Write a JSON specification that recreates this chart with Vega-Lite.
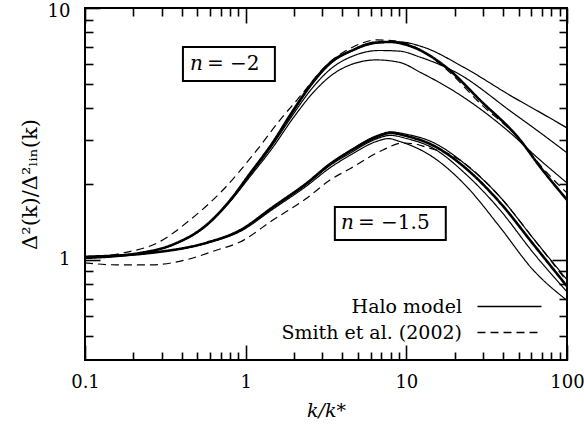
{
  "$schema": "https://vega.github.io/schema/vega-lite/v6.json",
  "width": 482,
  "height": 352,
  "autosize": {"type": "none"},
  "padding": {"left": 85, "top": 8, "right": 17, "bottom": 78},
  "background": "white",
  "datasets": {
    "curves": [
      {"g":"n2","c":"n2_thick","m":"Halo model","w":"thick","k":0.1,"r":1.018},
      {"g":"n2","c":"n2_thick","m":"Halo model","w":"thick","k":0.22,"r":1.064},
      {"g":"n2","c":"n2_thick","m":"Halo model","w":"thick","k":0.353,"r":1.15},
      {"g":"n2","c":"n2_thick","m":"Halo model","w":"thick","k":0.574,"r":1.38},
      {"g":"n2","c":"n2_thick","m":"Halo model","w":"thick","k":0.798,"r":1.72},
      {"g":"n2","c":"n2_thick","m":"Halo model","w":"thick","k":1.064,"r":2.2},
      {"g":"n2","c":"n2_thick","m":"Halo model","w":"thick","k":1.479,"r":2.93},
      {"g":"n2","c":"n2_thick","m":"Halo model","w":"thick","k":1.94,"r":3.85},
      {"g":"n2","c":"n2_thick","m":"Halo model","w":"thick","k":2.66,"r":5.15},
      {"g":"n2","c":"n2_thick","m":"Halo model","w":"thick","k":3.35,"r":6.05},
      {"g":"n2","c":"n2_thick","m":"Halo model","w":"thick","k":4.66,"r":6.81},
      {"g":"n2","c":"n2_thick","m":"Halo model","w":"thick","k":6.19,"r":7.27},
      {"g":"n2","c":"n2_thick","m":"Halo model","w":"thick","k":7.9,"r":7.33},
      {"g":"n2","c":"n2_thick","m":"Halo model","w":"thick","k":10.98,"r":7.0},
      {"g":"n2","c":"n2_thick","m":"Halo model","w":"thick","k":17.9,"r":5.78},
      {"g":"n2","c":"n2_thick","m":"Halo model","w":"thick","k":28.7,"r":4.31},
      {"g":"n2","c":"n2_thick","m":"Halo model","w":"thick","k":51.1,"r":2.99},
      {"g":"n2","c":"n2_thick","m":"Halo model","w":"thick","k":68,"r":2.34},
      {"g":"n2","c":"n2_thick","m":"Halo model","w":"thick","k":100,"r":1.73},

      {"g":"n2","c":"n2_dash","m":"Smith et al. (2002)","w":"thin","k":0.1,"r":1.02},
      {"g":"n2","c":"n2_dash","m":"Smith et al. (2002)","w":"thin","k":0.18,"r":1.07},
      {"g":"n2","c":"n2_dash","m":"Smith et al. (2002)","w":"thin","k":0.281,"r":1.166},
      {"g":"n2","c":"n2_dash","m":"Smith et al. (2002)","w":"thin","k":0.45,"r":1.439},
      {"g":"n2","c":"n2_dash","m":"Smith et al. (2002)","w":"thin","k":0.722,"r":1.893},
      {"g":"n2","c":"n2_dash","m":"Smith et al. (2002)","w":"thin","k":1.176,"r":2.73},
      {"g":"n2","c":"n2_dash","m":"Smith et al. (2002)","w":"thin","k":1.634,"r":3.59},
      {"g":"n2","c":"n2_dash","m":"Smith et al. (2002)","w":"thin","k":2.086,"r":4.31},
      {"g":"n2","c":"n2_dash","m":"Smith et al. (2002)","w":"thin","k":3.35,"r":6.11},
      {"g":"n2","c":"n2_dash","m":"Smith et al. (2002)","w":"thin","k":4.66,"r":7.0},
      {"g":"n2","c":"n2_dash","m":"Smith et al. (2002)","w":"thin","k":6.5,"r":7.47},
      {"g":"n2","c":"n2_dash","m":"Smith et al. (2002)","w":"thin","k":8.5,"r":7.4},
      {"g":"n2","c":"n2_dash","m":"Smith et al. (2002)","w":"thin","k":10.98,"r":7.07},
      {"g":"n2","c":"n2_dash","m":"Smith et al. (2002)","w":"thin","k":17.9,"r":5.68},
      {"g":"n2","c":"n2_dash","m":"Smith et al. (2002)","w":"thin","k":28.7,"r":4.19},
      {"g":"n2","c":"n2_dash","m":"Smith et al. (2002)","w":"thin","k":51.1,"r":2.99},
      {"g":"n2","c":"n2_dash","m":"Smith et al. (2002)","w":"thin","k":68,"r":2.38},
      {"g":"n2","c":"n2_dash","m":"Smith et al. (2002)","w":"thin","k":100,"r":1.84},

      {"g":"n2","c":"n2_thinA","m":"Halo model","w":"thin","k":0.1,"r":1.018},
      {"g":"n2","c":"n2_thinA","m":"Halo model","w":"thin","k":0.22,"r":1.064},
      {"g":"n2","c":"n2_thinA","m":"Halo model","w":"thin","k":0.353,"r":1.15},
      {"g":"n2","c":"n2_thinA","m":"Halo model","w":"thin","k":0.574,"r":1.38},
      {"g":"n2","c":"n2_thinA","m":"Halo model","w":"thin","k":0.798,"r":1.72},
      {"g":"n2","c":"n2_thinA","m":"Halo model","w":"thin","k":1.064,"r":2.19},
      {"g":"n2","c":"n2_thinA","m":"Halo model","w":"thin","k":1.479,"r":2.91},
      {"g":"n2","c":"n2_thinA","m":"Halo model","w":"thin","k":1.94,"r":3.8},
      {"g":"n2","c":"n2_thinA","m":"Halo model","w":"thin","k":2.66,"r":5.08},
      {"g":"n2","c":"n2_thinA","m":"Halo model","w":"thin","k":3.35,"r":5.98},
      {"g":"n2","c":"n2_thinA","m":"Halo model","w":"thin","k":4.66,"r":6.78},
      {"g":"n2","c":"n2_thinA","m":"Halo model","w":"thin","k":6.83,"r":7.27},
      {"g":"n2","c":"n2_thinA","m":"Halo model","w":"thin","k":9.1,"r":7.33},
      {"g":"n2","c":"n2_thinA","m":"Halo model","w":"thin","k":12.7,"r":7.0},
      {"g":"n2","c":"n2_thinA","m":"Halo model","w":"thin","k":22.6,"r":5.83},
      {"g":"n2","c":"n2_thinA","m":"Halo model","w":"thin","k":46.1,"r":4.43},
      {"g":"n2","c":"n2_thinA","m":"Halo model","w":"thin","k":68,"r":3.85},
      {"g":"n2","c":"n2_thinA","m":"Halo model","w":"thin","k":100,"r":3.34},

      {"g":"n2","c":"n2_thinB","m":"Halo model","w":"thin","k":0.1,"r":1.018},
      {"g":"n2","c":"n2_thinB","m":"Halo model","w":"thin","k":0.22,"r":1.064},
      {"g":"n2","c":"n2_thinB","m":"Halo model","w":"thin","k":0.353,"r":1.149},
      {"g":"n2","c":"n2_thinB","m":"Halo model","w":"thin","k":0.574,"r":1.375},
      {"g":"n2","c":"n2_thinB","m":"Halo model","w":"thin","k":0.798,"r":1.71},
      {"g":"n2","c":"n2_thinB","m":"Halo model","w":"thin","k":1.064,"r":2.17},
      {"g":"n2","c":"n2_thinB","m":"Halo model","w":"thin","k":1.479,"r":2.87},
      {"g":"n2","c":"n2_thinB","m":"Halo model","w":"thin","k":1.94,"r":3.72},
      {"g":"n2","c":"n2_thinB","m":"Halo model","w":"thin","k":2.66,"r":4.9},
      {"g":"n2","c":"n2_thinB","m":"Halo model","w":"thin","k":3.35,"r":5.7},
      {"g":"n2","c":"n2_thinB","m":"Halo model","w":"thin","k":4.66,"r":6.45},
      {"g":"n2","c":"n2_thinB","m":"Halo model","w":"thin","k":6.83,"r":6.78},
      {"g":"n2","c":"n2_thinB","m":"Halo model","w":"thin","k":9.1,"r":6.74},
      {"g":"n2","c":"n2_thinB","m":"Halo model","w":"thin","k":12.1,"r":6.39},
      {"g":"n2","c":"n2_thinB","m":"Halo model","w":"thin","k":20.7,"r":5.52},
      {"g":"n2","c":"n2_thinB","m":"Halo model","w":"thin","k":46.1,"r":3.83},
      {"g":"n2","c":"n2_thinB","m":"Halo model","w":"thin","k":68,"r":3.2},
      {"g":"n2","c":"n2_thinB","m":"Halo model","w":"thin","k":100,"r":2.66},

      {"g":"n2","c":"n2_thinC","m":"Halo model","w":"thin","k":0.1,"r":1.018},
      {"g":"n2","c":"n2_thinC","m":"Halo model","w":"thin","k":0.22,"r":1.063},
      {"g":"n2","c":"n2_thinC","m":"Halo model","w":"thin","k":0.353,"r":1.146},
      {"g":"n2","c":"n2_thinC","m":"Halo model","w":"thin","k":0.574,"r":1.37},
      {"g":"n2","c":"n2_thinC","m":"Halo model","w":"thin","k":0.798,"r":1.7},
      {"g":"n2","c":"n2_thinC","m":"Halo model","w":"thin","k":1.064,"r":2.14},
      {"g":"n2","c":"n2_thinC","m":"Halo model","w":"thin","k":1.479,"r":2.8},
      {"g":"n2","c":"n2_thinC","m":"Halo model","w":"thin","k":1.94,"r":3.6},
      {"g":"n2","c":"n2_thinC","m":"Halo model","w":"thin","k":2.66,"r":4.65},
      {"g":"n2","c":"n2_thinC","m":"Halo model","w":"thin","k":3.35,"r":5.35},
      {"g":"n2","c":"n2_thinC","m":"Halo model","w":"thin","k":4.66,"r":6.0},
      {"g":"n2","c":"n2_thinC","m":"Halo model","w":"thin","k":6.5,"r":6.22},
      {"g":"n2","c":"n2_thinC","m":"Halo model","w":"thin","k":9.1,"r":6.08},
      {"g":"n2","c":"n2_thinC","m":"Halo model","w":"thin","k":12.1,"r":5.57},
      {"g":"n2","c":"n2_thinC","m":"Halo model","w":"thin","k":22.6,"r":4.43},
      {"g":"n2","c":"n2_thinC","m":"Halo model","w":"thin","k":42.2,"r":3.28},
      {"g":"n2","c":"n2_thinC","m":"Halo model","w":"thin","k":68,"r":2.49},
      {"g":"n2","c":"n2_thinC","m":"Halo model","w":"thin","k":100,"r":2.02},

      {"g":"n15","c":"n15_thick","m":"Halo model","w":"thick","k":0.1,"r":1.028},
      {"g":"n15","c":"n15_thick","m":"Halo model","w":"thick","k":0.258,"r":1.066},
      {"g":"n15","c":"n15_thick","m":"Halo model","w":"thick","k":0.574,"r":1.17},
      {"g":"n15","c":"n15_thick","m":"Halo model","w":"thick","k":0.922,"r":1.31},
      {"g":"n15","c":"n15_thick","m":"Halo model","w":"thick","k":1.479,"r":1.62},
      {"g":"n15","c":"n15_thick","m":"Halo model","w":"thick","k":2.41,"r":2.02},
      {"g":"n15","c":"n15_thick","m":"Halo model","w":"thick","k":3.35,"r":2.4},
      {"g":"n15","c":"n15_thick","m":"Halo model","w":"thick","k":4.46,"r":2.7},
      {"g":"n15","c":"n15_thick","m":"Halo model","w":"thick","k":6.6,"r":3.08},
      {"g":"n15","c":"n15_thick","m":"Halo model","w":"thick","k":7.95,"r":3.19},
      {"g":"n15","c":"n15_thick","m":"Halo model","w":"thick","k":10.05,"r":3.1},
      {"g":"n15","c":"n15_thick","m":"Halo model","w":"thick","k":14.6,"r":2.85},
      {"g":"n15","c":"n15_thick","m":"Halo model","w":"thick","k":23.8,"r":2.29},
      {"g":"n15","c":"n15_thick","m":"Halo model","w":"thick","k":38.5,"r":1.68},
      {"g":"n15","c":"n15_thick","m":"Halo model","w":"thick","k":61.9,"r":1.15},
      {"g":"n15","c":"n15_thick","m":"Halo model","w":"thick","k":100,"r":0.785},

      {"g":"n15","c":"n15_dash","m":"Smith et al. (2002)","w":"thin","k":0.1,"r":0.973},
      {"g":"n15","c":"n15_dash","m":"Smith et al. (2002)","w":"thin","k":0.157,"r":0.955},
      {"g":"n15","c":"n15_dash","m":"Smith et al. (2002)","w":"thin","k":0.258,"r":0.955},
      {"g":"n15","c":"n15_dash","m":"Smith et al. (2002)","w":"thin","k":0.413,"r":0.995},
      {"g":"n15","c":"n15_dash","m":"Smith et al. (2002)","w":"thin","k":0.663,"r":1.094},
      {"g":"n15","c":"n15_dash","m":"Smith et al. (2002)","w":"thin","k":0.922,"r":1.177},
      {"g":"n15","c":"n15_dash","m":"Smith et al. (2002)","w":"thin","k":1.479,"r":1.439},
      {"g":"n15","c":"n15_dash","m":"Smith et al. (2002)","w":"thin","k":2.41,"r":1.76},
      {"g":"n15","c":"n15_dash","m":"Smith et al. (2002)","w":"thin","k":3.35,"r":2.075},
      {"g":"n15","c":"n15_dash","m":"Smith et al. (2002)","w":"thin","k":4.46,"r":2.3},
      {"g":"n15","c":"n15_dash","m":"Smith et al. (2002)","w":"thin","k":7.15,"r":2.73},
      {"g":"n15","c":"n15_dash","m":"Smith et al. (2002)","w":"thin","k":9.45,"r":2.91},
      {"g":"n15","c":"n15_dash","m":"Smith et al. (2002)","w":"thin","k":11.5,"r":2.88},
      {"g":"n15","c":"n15_dash","m":"Smith et al. (2002)","w":"thin","k":13.3,"r":2.8},
      {"g":"n15","c":"n15_dash","m":"Smith et al. (2002)","w":"thin","k":18.7,"r":2.62},
      {"g":"n15","c":"n15_dash","m":"Smith et al. (2002)","w":"thin","k":38.2,"r":1.78},
      {"g":"n15","c":"n15_dash","m":"Smith et al. (2002)","w":"thin","k":61.4,"r":1.22},
      {"g":"n15","c":"n15_dash","m":"Smith et al. (2002)","w":"thin","k":100,"r":0.82},

      {"g":"n15","c":"n15_thinU","m":"Halo model","w":"thin","k":0.1,"r":1.028},
      {"g":"n15","c":"n15_thinU","m":"Halo model","w":"thin","k":0.258,"r":1.066},
      {"g":"n15","c":"n15_thinU","m":"Halo model","w":"thin","k":0.574,"r":1.17},
      {"g":"n15","c":"n15_thinU","m":"Halo model","w":"thin","k":0.922,"r":1.31},
      {"g":"n15","c":"n15_thinU","m":"Halo model","w":"thin","k":1.479,"r":1.62},
      {"g":"n15","c":"n15_thinU","m":"Halo model","w":"thin","k":2.41,"r":2.02},
      {"g":"n15","c":"n15_thinU","m":"Halo model","w":"thin","k":3.35,"r":2.41},
      {"g":"n15","c":"n15_thinU","m":"Halo model","w":"thin","k":4.46,"r":2.72},
      {"g":"n15","c":"n15_thinU","m":"Halo model","w":"thin","k":6.6,"r":3.12},
      {"g":"n15","c":"n15_thinU","m":"Halo model","w":"thin","k":7.95,"r":3.22},
      {"g":"n15","c":"n15_thinU","m":"Halo model","w":"thin","k":10.05,"r":3.15},
      {"g":"n15","c":"n15_thinU","m":"Halo model","w":"thin","k":14.6,"r":2.93},
      {"g":"n15","c":"n15_thinU","m":"Halo model","w":"thin","k":23.8,"r":2.37},
      {"g":"n15","c":"n15_thinU","m":"Halo model","w":"thin","k":38.2,"r":1.78},
      {"g":"n15","c":"n15_thinU","m":"Halo model","w":"thin","k":61.4,"r":1.22},
      {"g":"n15","c":"n15_thinU","m":"Halo model","w":"thin","k":100,"r":0.833},

      {"g":"n15","c":"n15_thinM","m":"Halo model","w":"thin","k":0.1,"r":1.028},
      {"g":"n15","c":"n15_thinM","m":"Halo model","w":"thin","k":0.258,"r":1.066},
      {"g":"n15","c":"n15_thinM","m":"Halo model","w":"thin","k":0.574,"r":1.168},
      {"g":"n15","c":"n15_thinM","m":"Halo model","w":"thin","k":0.922,"r":1.305},
      {"g":"n15","c":"n15_thinM","m":"Halo model","w":"thin","k":1.479,"r":1.61},
      {"g":"n15","c":"n15_thinM","m":"Halo model","w":"thin","k":2.41,"r":2.0},
      {"g":"n15","c":"n15_thinM","m":"Halo model","w":"thin","k":3.35,"r":2.37},
      {"g":"n15","c":"n15_thinM","m":"Halo model","w":"thin","k":4.46,"r":2.65},
      {"g":"n15","c":"n15_thinM","m":"Halo model","w":"thin","k":6.6,"r":3.03},
      {"g":"n15","c":"n15_thinM","m":"Halo model","w":"thin","k":7.95,"r":3.12},
      {"g":"n15","c":"n15_thinM","m":"Halo model","w":"thin","k":10.05,"r":3.03},
      {"g":"n15","c":"n15_thinM","m":"Halo model","w":"thin","k":14.6,"r":2.78},
      {"g":"n15","c":"n15_thinM","m":"Halo model","w":"thin","k":23.8,"r":2.17},
      {"g":"n15","c":"n15_thinM","m":"Halo model","w":"thin","k":38.2,"r":1.58},
      {"g":"n15","c":"n15_thinM","m":"Halo model","w":"thin","k":61.4,"r":1.07},
      {"g":"n15","c":"n15_thinM","m":"Halo model","w":"thin","k":100,"r":0.746},

      {"g":"n15","c":"n15_thinL","m":"Halo model","w":"thin","k":0.1,"r":1.028},
      {"g":"n15","c":"n15_thinL","m":"Halo model","w":"thin","k":0.258,"r":1.065},
      {"g":"n15","c":"n15_thinL","m":"Halo model","w":"thin","k":0.574,"r":1.165},
      {"g":"n15","c":"n15_thinL","m":"Halo model","w":"thin","k":0.922,"r":1.295},
      {"g":"n15","c":"n15_thinL","m":"Halo model","w":"thin","k":1.479,"r":1.59},
      {"g":"n15","c":"n15_thinL","m":"Halo model","w":"thin","k":2.41,"r":1.97},
      {"g":"n15","c":"n15_thinL","m":"Halo model","w":"thin","k":3.35,"r":2.32},
      {"g":"n15","c":"n15_thinL","m":"Halo model","w":"thin","k":4.46,"r":2.6},
      {"g":"n15","c":"n15_thinL","m":"Halo model","w":"thin","k":6.6,"r":2.96},
      {"g":"n15","c":"n15_thinL","m":"Halo model","w":"thin","k":7.74,"r":3.03},
      {"g":"n15","c":"n15_thinL","m":"Halo model","w":"thin","k":9.1,"r":2.95},
      {"g":"n15","c":"n15_thinL","m":"Halo model","w":"thin","k":14.6,"r":2.56},
      {"g":"n15","c":"n15_thinL","m":"Halo model","w":"thin","k":23.8,"r":1.95},
      {"g":"n15","c":"n15_thinL","m":"Halo model","w":"thin","k":38.2,"r":1.35},
      {"g":"n15","c":"n15_thinL","m":"Halo model","w":"thin","k":61.4,"r":0.913},
      {"g":"n15","c":"n15_thinL","m":"Halo model","w":"thin","k":100,"r":0.69}
    ],
    "boxes": [
      {"b":"n2","k1":0.407,"k2":1.52,"r1":7.0,"r2":5.13},
      {"b":"n15","k1":3.59,"k2":17.6,"r1":1.62,"r2":1.198}
    ],
    "labels": [
      {"part":"var","t":"n","k":0.542,"r":5.99},
      {"part":"rest","t":"= −2","k":0.574,"r":5.99},
      {"part":"var","t":"n","k":4.72,"r":1.40},
      {"part":"rest","t":"= −1.5","k":5.0,"r":1.40}
    ]
  },
  "resolve": {"axis": {"x": "independent", "y": "independent"}},
  "layer": [
    {
      "data": {"name": "curves"},
      "transform": [{"filter": "datum.g == 'n2'"}],
      "mark": {"type": "line", "color": "black", "clip": true, "interpolate": "monotone"},
      "encoding": {
        "x": {"field": "k", "type": "quantitative",
          "scale": {"type": "log", "domain": [0.1, 100], "nice": false},
          "axis": {"orient": "bottom", "values": [0.1, 1, 10, 100], "format": "~g", "tickSize": -15, "labelPadding": 28, "labelFlush": false, "title": "k/k*", "titleFontStyle": "italic", "titlePadding": 10}},
        "y": {"field": "r", "type": "quantitative",
          "scale": {"type": "log", "domain": [0.4, 10], "nice": false, "zero": false},
          "axis": {"orient": "left", "values": [1, 10], "format": "~g", "tickSize": -15, "labelPadding": 30, "labelFlush": true, "labelFlushOffset": 6, "title": "Δ²(k)/Δ²ₗᵢₙ(k)", "titleFontSize": 21, "titlePadding": 7}},
        "detail": {"field": "c"},
        "strokeDash": {"field": "m", "type": "nominal",
          "scale": {"domain": ["Halo model", "Smith et al. (2002)"], "range": [[1, 0], [8, 5]]},
          "legend": {"title": null, "orient": "none", "legendX": 415, "legendY": 289, "symbolType": "M-8,0H8", "symbolSize": 64, "symbolStrokeWidth": 1.3, "symbolStrokeColor": "black", "symbolFillColor": "transparent", "labelAlign": "right", "labelOffset": -57, "labelLimit": 400, "labelFont": "DejaVu Serif", "labelFontSize": 19, "labelColor": "black", "rowPadding": 6, "padding": 0}},
        "strokeWidth": {"field": "w", "type": "ordinal", "scale": {"domain": ["thin", "thick"], "range": [1.2, 2.6]}, "legend": null}
      }
    },
    {
      "data": {"name": "curves"},
      "transform": [{"filter": "datum.g == 'n15'"}],
      "mark": {"type": "line", "color": "black", "clip": true, "interpolate": "monotone"},
      "encoding": {
        "x": {"field": "k", "type": "quantitative",
          "axis": {"orient": "bottom", "values": [0.2,0.3,0.4,0.5,0.6,0.7,0.8,0.9,2,3,4,5,6,7,8,9,20,30,40,50,60,70,80,90], "labels": false, "tickSize": -8, "title": null}},
        "y": {"field": "r", "type": "quantitative",
          "axis": {"orient": "left", "values": [0.5,0.6,0.7,0.8,0.9,2,3,4,5,6,7,8,9], "labels": false, "tickSize": -8, "title": null}},
        "detail": {"field": "c"},
        "strokeDash": {"field": "m", "type": "nominal"},
        "strokeWidth": {"field": "w", "type": "ordinal", "legend": null}
      }
    },
    {
      "data": {"name": "boxes"},
      "mark": {"type": "rect", "fill": "white", "stroke": "black", "strokeWidth": 2},
      "encoding": {
        "x": {"field": "k1", "type": "quantitative",
          "axis": {"orient": "top", "values": [0.1, 1, 10, 100], "labels": false, "tickSize": -15, "title": null}},
        "x2": {"field": "k2"},
        "y": {"field": "r1", "type": "quantitative",
          "axis": {"orient": "right", "values": [1, 10], "labels": false, "tickSize": -15, "title": null}},
        "y2": {"field": "r2"}
      }
    },
    {
      "data": {"name": "labels"},
      "transform": [{"filter": "datum.part == 'var'"}],
      "mark": {"type": "text", "align": "right", "baseline": "middle", "font": "DejaVu Serif", "fontStyle": "italic", "fontSize": 20, "color": "black"},
      "encoding": {
        "x": {"field": "k", "type": "quantitative",
          "axis": {"orient": "top", "values": [0.2,0.3,0.4,0.5,0.6,0.7,0.8,0.9,2,3,4,5,6,7,8,9,20,30,40,50,60,70,80,90], "labels": false, "tickSize": -8, "title": null}},
        "y": {"field": "r", "type": "quantitative",
          "axis": {"orient": "right", "values": [0.5,0.6,0.7,0.8,0.9,2,3,4,5,6,7,8,9], "labels": false, "tickSize": -8, "title": null}},
        "text": {"field": "t"}
      }
    },
    {
      "data": {"name": "labels"},
      "transform": [{"filter": "datum.part == 'rest'"}],
      "mark": {"type": "text", "align": "left", "baseline": "middle", "font": "DejaVu Serif", "fontSize": 20, "color": "black"},
      "encoding": {
        "x": {"field": "k", "type": "quantitative", "axis": null},
        "y": {"field": "r", "type": "quantitative", "axis": null},
        "text": {"field": "t"}
      }
    }
  ],
  "config": {
    "view": {"stroke": "black", "strokeWidth": 2},
    "axis": {
      "domain": false,
      "grid": false,
      "tickColor": "black",
      "tickWidth": 1.6,
      "labelFont": "DejaVu Serif",
      "labelFontSize": 18,
      "labelColor": "black",
      "titleFont": "DejaVu Serif",
      "titleFontSize": 19,
      "titleFontWeight": "normal",
      "titleColor": "black"
    }
  }
}
